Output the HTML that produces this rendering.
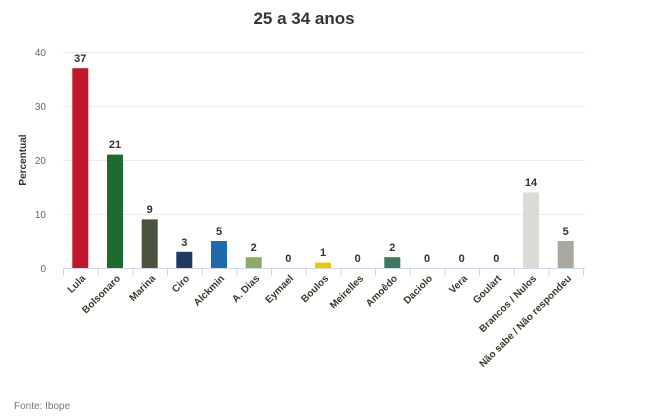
<!DOCTYPE html>
<html><head><meta charset="utf-8"><style>
html,body{margin:0;padding:0;background:#fff;width:650px;height:420px;overflow:hidden}
svg{display:block;font-family:"Liberation Sans",sans-serif}
</style></head><body>
<svg width="650" height="420" viewBox="0 0 650 420">
<text x="304" y="24" text-anchor="middle" font-size="17" font-weight="bold" fill="#333">25 a 34 anos</text>
<g stroke="#ececec" stroke-width="1">
<line x1="63" x2="585" y1="52.5" y2="52.5"/>
<line x1="63" x2="585" y1="106.5" y2="106.5"/>
<line x1="63" x2="585" y1="160.5" y2="160.5"/>
<line x1="63" x2="585" y1="214.5" y2="214.5"/>
</g>
<g font-size="10" fill="#666" text-anchor="end">
<text x="46" y="56">40</text><text x="46" y="110">30</text><text x="46" y="164">20</text><text x="46" y="218">10</text><text x="46" y="272">0</text>
</g>
<text transform="translate(26,160) rotate(-90)" text-anchor="middle" font-size="10" font-weight="bold" fill="#333">Percentual</text>
<line x1="63" x2="585" y1="268.5" y2="268.5" stroke="#ccd6eb"/>
<g stroke="#ccd6eb">
<line x1="63.5" x2="63.5" y1="268" y2="276"/><line x1="98.2" x2="98.2" y1="268" y2="276"/><line x1="132.8" x2="132.8" y1="268" y2="276"/><line x1="167.5" x2="167.5" y1="268" y2="276"/><line x1="202.2" x2="202.2" y1="268" y2="276"/><line x1="236.8" x2="236.8" y1="268" y2="276"/><line x1="271.5" x2="271.5" y1="268" y2="276"/><line x1="306.2" x2="306.2" y1="268" y2="276"/><line x1="340.8" x2="340.8" y1="268" y2="276"/><line x1="375.5" x2="375.5" y1="268" y2="276"/><line x1="410.2" x2="410.2" y1="268" y2="276"/><line x1="444.8" x2="444.8" y1="268" y2="276"/><line x1="479.5" x2="479.5" y1="268" y2="276"/><line x1="514.2" x2="514.2" y1="268" y2="276"/><line x1="548.8" x2="548.8" y1="268" y2="276"/><line x1="583.5" x2="583.5" y1="268" y2="276"/>
</g>
<g>
<rect x="72.3" y="68.2" width="16" height="199.8" fill="#c0172a"/>
<rect x="107" y="154.6" width="16" height="113.4" fill="#1e6b30"/>
<rect x="141.7" y="219.4" width="16" height="48.6" fill="#4a5240"/>
<rect x="176.3" y="251.8" width="16" height="16.2" fill="#1f3a63"/>
<rect x="211" y="241" width="16" height="27" fill="#1f6aa8"/>
<rect x="245.7" y="257.2" width="16" height="10.8" fill="#8aab6a"/>
<rect x="315" y="262.6" width="16" height="5.4" fill="#f0c800"/>
<rect x="384.3" y="257.2" width="16" height="10.8" fill="#3e7a63"/>
<rect x="523" y="192.4" width="16" height="75.6" fill="#dcdcd6"/>
<rect x="557.7" y="241" width="16" height="27" fill="#a9aa9c"/>
</g>
<g font-size="11" font-weight="bold" fill="#333" text-anchor="middle">
<text x="80.3" y="62">37</text><text x="115" y="148">21</text><text x="149.7" y="213">9</text><text x="184.3" y="246">3</text><text x="219" y="235">5</text><text x="253.7" y="251">2</text><text x="288.3" y="262">0</text><text x="323" y="256">1</text><text x="357.7" y="262">0</text><text x="392.3" y="251">2</text><text x="427" y="262">0</text><text x="461.7" y="262">0</text><text x="496.3" y="262">0</text><text x="531" y="186">14</text><text x="565.7" y="235">5</text>
</g>
<g font-size="10" font-weight="bold" fill="#3a3a2a" text-anchor="end">
<text transform="translate(86,279) rotate(-45)">Lula</text>
<text transform="translate(121,279) rotate(-45)">Bolsonaro</text>
<text transform="translate(156,279) rotate(-45)">Marina</text>
<text transform="translate(190,279) rotate(-45)">Ciro</text>
<text transform="translate(225,279) rotate(-45)">Alckmin</text>
<text transform="translate(260,279) rotate(-45)">A. Dias</text>
<text transform="translate(294,279) rotate(-45)">Eymael</text>
<text transform="translate(329,279) rotate(-45)">Boulos</text>
<text transform="translate(364,279) rotate(-45)">Meirelles</text>
<text transform="translate(398,279) rotate(-45)">Amoêdo</text>
<text transform="translate(433,279) rotate(-45)">Daciolo</text>
<text transform="translate(468,279) rotate(-45)">Vera</text>
<text transform="translate(502,279) rotate(-45)">Goulart</text>
<text transform="translate(537,279) rotate(-45)">Brancos / Nulos</text>
<text transform="translate(572,279) rotate(-45)">Não sabe / Não respondeu</text>
</g>
<text x="14" y="409" font-size="10" fill="#777">Fonte: Ibope</text>
</svg>
</body></html>
